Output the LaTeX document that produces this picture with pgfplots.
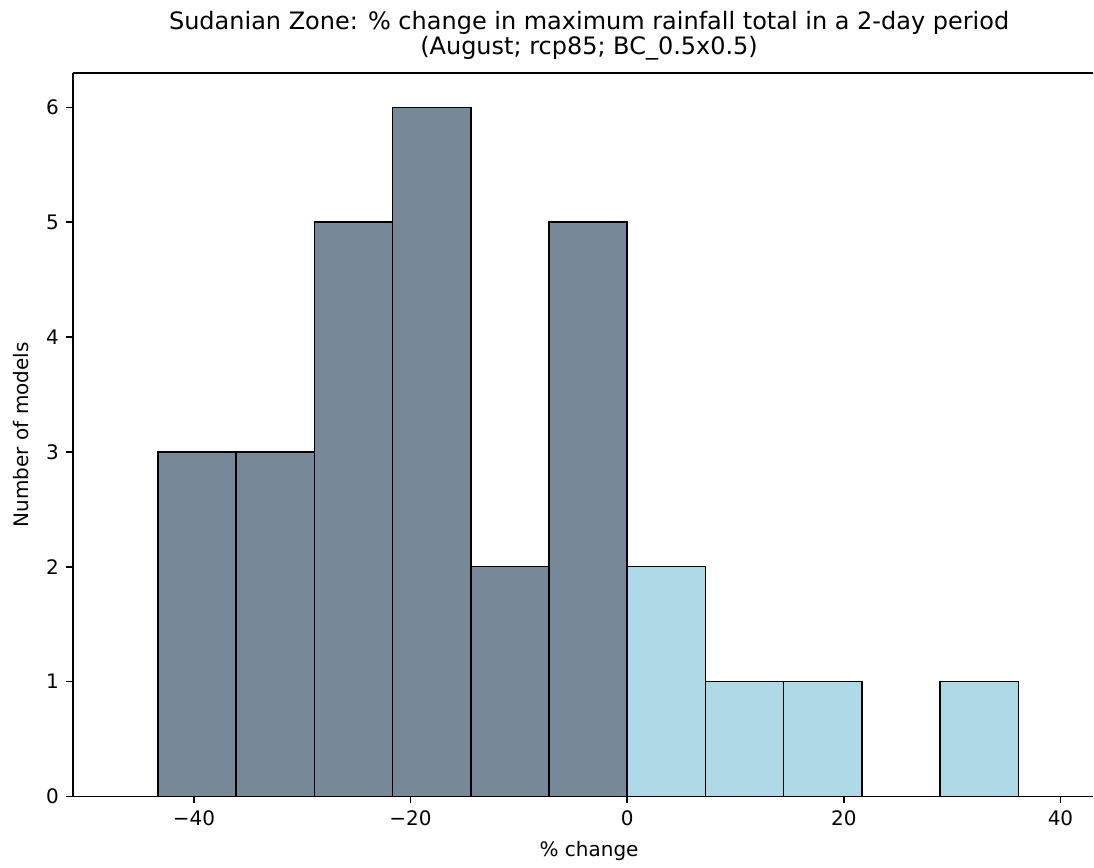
\documentclass[border=0pt]{standalone}
\usepackage{fontspec}
\setmainfont{DejaVu Sans}
\usepackage{pgfplots}
\pgfplotsset{compat=1.18}
\definecolor{darkbar}{RGB}{119,136,153}
\definecolor{lightbar}{RGB}{173,216,230}
\begin{document}
\begin{tikzpicture}
\begin{axis}[
  at={(0,0)}, anchor=south west,
  scale only axis, width=510.5pt, height=362pt,
  xmin=-51.17, xmax=43.02, ymin=0, ymax=6.3,
  xtick={-40,-20,0,20,40}, xticklabels={−40,−20,0,20,40},
  ytick={0,1,2,3,4,5,6},
  axis x line*=box, axis y line*=left,
  tick align=outside, xtick pos=left, ytick pos=left,
  major tick length=3.5pt,
  tick style={black, line width=0.8pt},
  axis line style={line width=0.8pt, -},
  /pgf/number format/assume math mode=true,
  tick label style={font=\fontsize{10}{12}\selectfont},
  label style={font=\fontsize{10}{12}\selectfont},
  xlabel={\% change}, ylabel={Number of models},
  title={Sudanian Zone: \% change in maximum rainfall total in a 2-day period\\(August; rcp85; BC\_0.5x0.5)},
  every axis title/.style={at={(rel axis cs:0.5,1)}, anchor=south, align=center, inner sep=0pt, xshift=3pt, yshift=6pt, font=\fontsize{12}{11.2}\selectfont},
  every axis x label/.style={at={(rel axis cs:0.5,0)}, anchor=center, xshift=3pt, yshift=-27.5pt},
  every axis y label/.style={at={(rel axis cs:0,0.5)}, anchor=center, xshift=-26pt, rotate=90},
]
\addplot[ybar, bar width=7.22, bar shift=0pt, fill=darkbar, draw=black, line width=0.75pt]
  coordinates {(-39.71,3) (-32.49,3) (-25.27,5) (-18.05,6) (-10.83,2) (-3.61,5)};
\addplot[ybar, bar width=7.22, bar shift=0pt, fill=lightbar, draw=black, line width=0.75pt]
  coordinates {(3.61,2) (10.83,1) (18.05,1) (25.27,0) (32.49,1)};
\end{axis}
\path (-36.5pt,-34pt) rectangle (510.5pt,398.5pt);
\end{tikzpicture}
\end{document}
